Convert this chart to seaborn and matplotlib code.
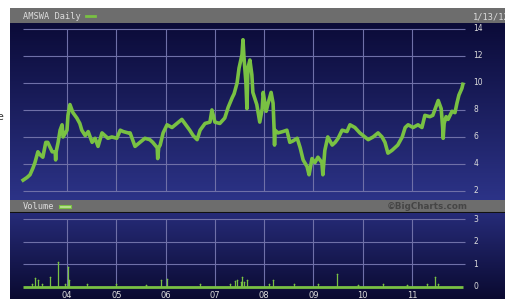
import numpy as np
import pandas as pd
import seaborn as sns
import matplotlib.pyplot as plt
from matplotlib.colors import LinearSegmentedColormap
from matplotlib.patches import Rectangle

# price (decimal year, close)
price_years = [2003.11, 2003.19, 2003.25, 2003.31, 2003.35, 2003.41, 2003.45, 2003.51, 2003.57, 2003.61,
               2003.70, 2003.76, 2003.77, 2003.78, 2003.82, 2003.86, 2003.90, 2003.92, 2004.00, 2004.02,
               2004.06, 2004.10, 2004.12, 2004.20, 2004.26, 2004.30, 2004.37, 2004.43, 2004.51, 2004.57,
               2004.63, 2004.71, 2004.77, 2004.83, 2004.91, 2005.01, 2005.08, 2005.14, 2005.24, 2005.28,
               2005.38, 2005.48, 2005.58, 2005.68, 2005.74, 2005.83, 2005.84, 2005.86, 2005.89, 2005.95,
               2006.03, 2006.13, 2006.23, 2006.33, 2006.43, 2006.49, 2006.56, 2006.64, 2006.70, 2006.80,
               2006.90, 2006.94, 2007.00, 2007.10, 2007.20, 2007.27, 2007.35, 2007.39, 2007.45, 2007.49,
               2007.55, 2007.57, 2007.59, 2007.63, 2007.65, 2007.67, 2007.71, 2007.75, 2007.77, 2007.85,
               2007.91, 2007.96, 2007.98, 2008.04, 2008.08, 2008.14, 2008.18, 2008.20, 2008.21, 2008.22,
               2008.28, 2008.38, 2008.46, 2008.52, 2008.58, 2008.67, 2008.73, 2008.79, 2008.87, 2008.91,
               2008.97, 2009.03, 2009.09, 2009.17, 2009.19, 2009.23, 2009.29, 2009.38, 2009.44, 2009.50,
               2009.58, 2009.68, 2009.74, 2009.84, 2009.94, 2010.04, 2010.11, 2010.21, 2010.31, 2010.39,
               2010.45, 2010.51, 2010.59, 2010.65, 2010.71, 2010.80, 2010.86, 2010.92, 2011.02, 2011.12,
               2011.20, 2011.26, 2011.36, 2011.42, 2011.48, 2011.53, 2011.59, 2011.62, 2011.63, 2011.65,
               2011.69, 2011.73, 2011.81, 2011.87, 2011.91, 2011.95, 2012.01, 2012.03]
price_values = [2.8, 3.0, 3.2, 3.7, 4.1, 4.9, 4.7, 4.5, 5.6, 5.6,
                4.9, 4.9, 4.3, 4.9, 5.6, 6.5, 6.9, 6.0, 6.5, 7.6,
                8.4, 8.0, 7.8, 7.4, 7.0, 6.5, 6.1, 6.4, 5.6, 5.9,
                5.3, 6.3, 6.1, 5.9, 6.0, 5.9, 6.5, 6.4, 6.3, 6.3,
                5.3, 5.6, 5.9, 5.8, 5.6, 5.2, 4.4, 5.2, 5.4, 6.3,
                6.9, 6.7, 7.0, 7.3, 6.8, 6.5, 6.1, 5.8, 6.5, 7.0,
                7.1, 8.0, 7.1, 7.0, 7.4, 8.2, 8.9, 9.2, 10.0, 11.1,
                12.1, 13.2, 11.9, 10.0, 8.1, 11.1, 11.7, 10.6, 9.3, 8.4,
                7.1, 8.1, 9.3, 7.9, 8.5, 9.3, 8.5, 6.7, 5.4, 6.5,
                6.3, 6.4, 6.5, 5.6, 5.7, 5.9, 5.2, 4.3, 3.8, 3.2,
                4.4, 4.1, 4.5, 4.1, 3.2, 5.0, 6.0, 5.4, 5.6, 5.9,
                6.5, 6.4, 6.9, 6.7, 6.3, 6.0, 5.8, 6.0, 6.3, 6.0,
                5.6, 4.8, 5.0, 5.2, 5.4, 6.0, 6.7, 6.9, 6.7, 6.9,
                6.7, 7.6, 7.5, 7.6, 8.2, 8.7, 8.1, 6.7, 5.9, 7.0,
                7.5, 7.3, 7.9, 7.8, 8.5, 9.1, 9.6, 9.9]

# volume spikes in millions (the rest sits on the baseline)
vol_years = [2003.30, 2003.35, 2003.41, 2003.50, 2003.65, 2003.82, 2003.95, 2004.02, 2004.04, 2004.40,
             2005.00, 2005.60, 2005.90, 2006.02, 2006.70, 2007.30, 2007.40, 2007.45, 2007.52, 2007.55,
             2007.60, 2007.65, 2008.10, 2008.18, 2008.60, 2009.10, 2009.48, 2009.90, 2010.40, 2010.90,
             2011.30, 2011.47, 2011.52]
vol_values = [0.15, 0.40, 0.30, 0.15, 0.45, 1.10, 0.15, 0.90, 0.30, 0.12,
              0.15, 0.10, 0.30, 0.35, 0.12, 0.15, 0.25, 0.30, 0.20, 0.45,
              0.20, 0.30, 0.15, 0.30, 0.12, 0.12, 0.57, 0.10, 0.12, 0.10,
              0.15, 0.45, 0.15]

year_ticks = [2004, 2005, 2006, 2007, 2008, 2009, 2010, 2011]
year_labels = ["04", "05", "06", "07", "08", "09", "10", "11"]
price_ticks = [2, 4, 6, 8, 10, 12, 14]
vol_ticks = [0, 1, 2, 3]

price_df = pd.DataFrame({"year": price_years, "price": price_values})
vol_df = pd.DataFrame({"year": vol_years, "volume": vol_values})

green = "#79c143"
grid_c = "#6f70a8"
head_c = "#6d6d6d"
label_c = "#dcdcdc"

W, H = 506, 299
fig = plt.figure(figsize=(W / 100, H / 100), dpi=100)


def box(x0, y0, x1, y1):
    return [x0 / W, 1 - y1 / H, (x1 - x0) / W, (y1 - y0) / H]


def clean(ax):
    ax.set_xticks([])
    ax.set_yticks([])
    for s in ax.spines.values():
        s.set_visible(False)


def gradient(ax, top, bottom):
    cmap = LinearSegmentedColormap.from_list("g", [top, bottom])
    ax.imshow(np.linspace(0, 1, 256).reshape(-1, 1), cmap=cmap, aspect="auto",
              extent=[0, 1, 0, 1], transform=ax.transAxes, zorder=0)


ax_h1 = fig.add_axes(box(10, 8, 506, 23))
ax_p = fig.add_axes(box(10, 23, 506, 200))
ax_h2 = fig.add_axes(box(10, 200, 506, 213))
ax_v = fig.add_axes(box(10, 213, 506, 299))

for ax in (ax_h1, ax_h2):
    ax.set_facecolor(head_c)
    clean(ax)
ax_h2.axhline(0, color="#111111", lw=1.5)

x_lo, x_hi = 2002.844, 2012.905
g_lo, g_hi = 2003.11, 2012.07

# price panel
gradient(ax_p, "#0b0b38", "#2c3387")
ax_p.hlines(price_ticks, g_lo, g_hi, color=grid_c, lw=0.8, zorder=1)
ax_p.vlines(year_ticks, 2, 14, color=grid_c, lw=0.8, zorder=1)
sns.lineplot(data=price_df, x="year", y="price", ax=ax_p, color=green, lw=2.6,
             estimator=None, sort=False, zorder=3)
for t in price_ticks:
    ax_p.text(2012.24, t, str(t), color=label_c, fontsize=5.5, ha="left", va="center")
ax_p.set_xlim(x_lo, x_hi)
ax_p.set_ylim(1.33, 14.44)
ax_p.set_xlabel("")
ax_p.set_ylabel("")
clean(ax_p)

# volume panel
gradient(ax_v, "#262b78", "#0a0a30")
ax_v.hlines([1, 2, 3], g_lo, g_hi, color=grid_c, lw=0.8, zorder=1)
ax_v.vlines(year_ticks, 0, 3, color=grid_c, lw=0.8, zorder=1)
ax_v.vlines(vol_df["year"], 0, vol_df["volume"], color=green, lw=0.9, zorder=3)
sns.scatterplot(data=vol_df, x="year", y="volume", ax=ax_v, color=green, s=1.5,
                linewidth=0, zorder=3)
ax_v.hlines(0, g_lo, 2012.03, color=green, lw=2.0, zorder=3)
for t in vol_ticks:
    ax_v.text(2012.24, t, str(t), color=label_c, fontsize=5.5, ha="left", va="center")
for yr, lab in zip(year_ticks, year_labels):
    ax_v.text(yr, -0.36, lab, color=label_c, fontsize=6, ha="center", va="center")
ax_v.set_xlim(x_lo, x_hi)
ax_v.set_ylim(-0.53, 3.265)
ax_v.set_xlabel("")
ax_v.set_ylabel("")
clean(ax_v)

# header texts
fig.text(23 / W, 1 - 16.5 / H, "AMSWA Daily", family="DejaVu Sans Mono", fontsize=6.2,
         color=label_c, ha="left", va="center")
fig.add_artist(plt.Line2D([86 / W, 95 / W], [1 - 16.3 / H] * 2, color=green, lw=2))
fig.text(473 / W, 1 - 16.5 / H, "1/13/12", family="DejaVu Sans Mono", fontsize=6.2,
         color=label_c, ha="left", va="center")
fig.text(23 / W, 1 - 206.8 / H, "Volume", family="DejaVu Sans Mono", fontsize=6.2,
         color=label_c, ha="left", va="center")
fig.add_artist(Rectangle((59 / W, 1 - 208.3 / H), 12 / W, 3 / H, facecolor="#b8e08f",
                         edgecolor=green, lw=0.8))
fig.text(468 / W, 1 - 206.5 / H, "\u00a9BigCharts.com", fontsize=6.3, fontweight="bold",
         color="#454545", ha="right", va="center")
fig.text(3.5 / W, 1 - 117 / H, "e", fontsize=8, color="#333333", ha="right", va="center")

fig.savefig("out.png", dpi=100)
